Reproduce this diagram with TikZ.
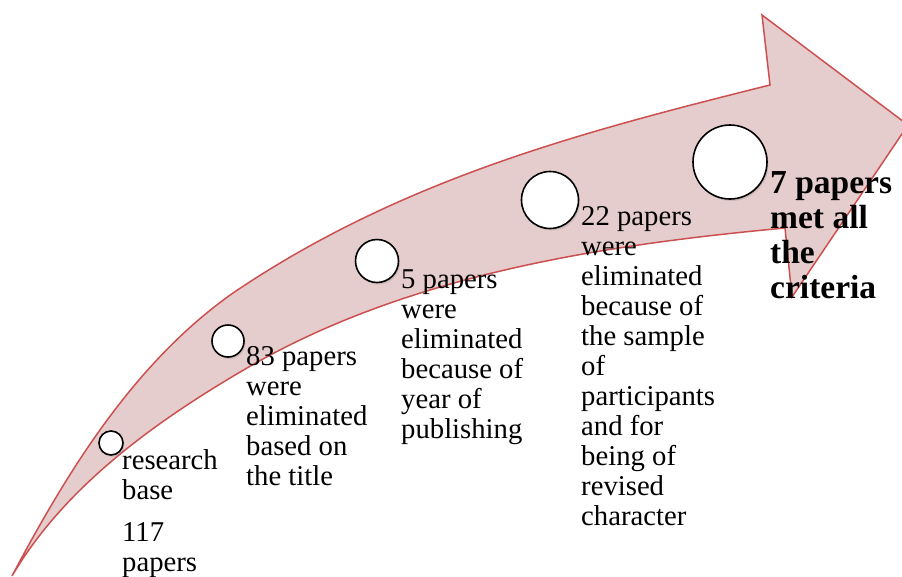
\documentclass[tikz,border=0pt]{standalone}
\usepackage{fontspec}
\setmainfont{Liberation Serif}
\usetikzlibrary{shadows}
\definecolor{bandfill}{RGB}{230,205,205}
\definecolor{bandline}{RGB}{205,80,80}
\begin{document}
\begin{tikzpicture}[x=1pt,y=-1pt,
  stage/.style={circle, draw=black, line width=1.6pt, fill=white, inner sep=0pt,
    drop shadow={opacity=0.25, shadow xshift=1.5pt, shadow yshift=-2pt}},
  steptext/.style={anchor=north west, inner sep=0pt, align=left,
    font=\fontsize{28.7}{30}\selectfont},
  finaltext/.style={anchor=north west, inner sep=0pt, align=left,
    font=\fontsize{33.5}{35}\selectfont\bfseries}]
\useasboundingbox (0,0) rectangle (902,576);
\clip (0,0) rectangle (902,576);

% curved arrow band: upper edge, arrowhead, lower edge back to the tail
\filldraw[fill=bandfill, draw=bandline, line width=1.5pt, line join=miter]
  (12,576) .. controls (68,470) and (135,362) .. (233,293)
           .. controls (403,178) and (586,131) .. (770,85)
  -- (762,15) -- (908,125) -- (792,297) -- (785,228)
  .. controls (601,245) and (407,275) .. (247,368)
  .. controls (156,421) and (65,486) .. (12,576)
  -- cycle;

% stage markers
\node[stage, minimum size=24] (c1) at (111,443) {};
\node[stage, minimum size=32] (c2) at (228,341) {};
\node[stage, minimum size=43] (c3) at (377,261) {};
\node[stage, minimum size=57] (c4) at (550,200) {};
\node[stage, minimum size=74] (c5) at (730,162) {};

% stage descriptions
\node[steptext] (t1) at (122,449.5) {research\\base\\[12pt]117\\papers};
\node[steptext] (t2) at (246,346.5) {83 papers\\were\\eliminated\\based on\\the title};
\node[steptext] (t3) at (401,269.5) {5 papers\\were\\eliminated\\because of\\year of\\publishing};
\node[steptext] (t4) at (581,206.5) {22 papers\\were\\eliminated\\because of\\the sample\\of\\participants\\and for\\being of\\revised\\character};
\node[finaltext] (t5) at (770,171) {7 papers\\met all\\the\\criteria};
\end{tikzpicture}
\end{document}
